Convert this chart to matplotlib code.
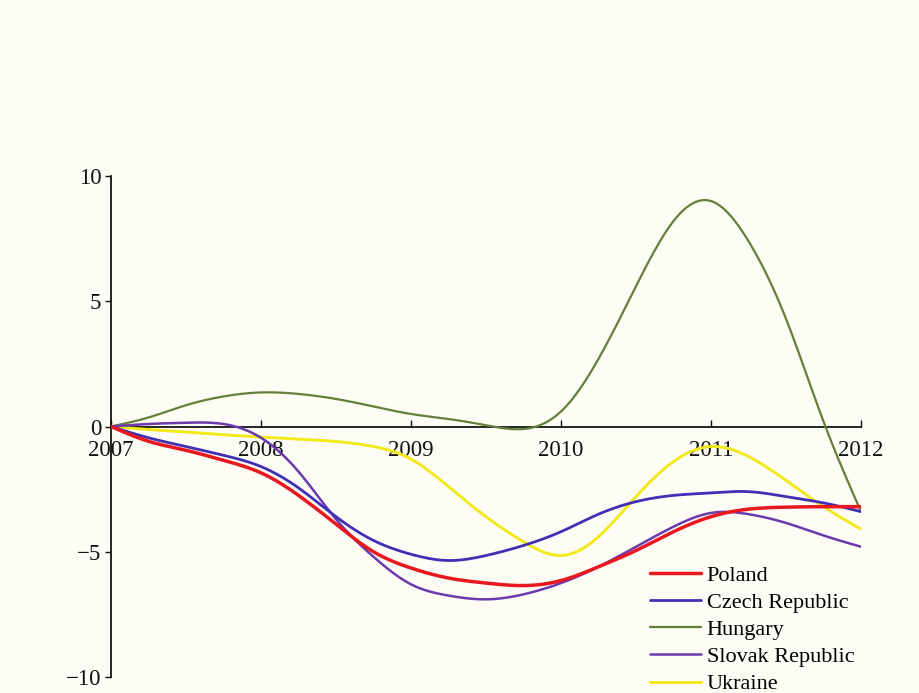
import numpy as np
import matplotlib
matplotlib.use("Agg")
import matplotlib.pyplot as plt

# Quarterly readings, 2007 = 0 baseline
years = np.arange(2007, 2012.01, 0.25)

poland = [0, -0.59, -0.95, -1.35, -1.85, -2.75, -3.9, -5.0, -5.65, -6.05, -6.25,
          -6.35, -6.15, -5.6, -4.95, -4.2, -3.6, -3.3, -3.22, -3.2, -3.2]
czech = [0, -0.45, -0.8, -1.15, -1.6, -2.45, -3.6, -4.55, -5.1, -5.35, -5.15,
         -4.75, -4.2, -3.5, -3.0, -2.75, -2.65, -2.6, -2.8, -3.05, -3.4]
hungary = [0, 0.36, 0.85, 1.2, 1.36, 1.3, 1.1, 0.8, 0.5, 0.3, 0.05,
           -0.1, 0.6, 2.7, 5.6, 8.2, 9.0, 7.4, 4.3, 0.2, -3.4]
slovak = [0, 0.1, 0.15, 0.1, -0.45, -1.8, -3.7, -5.2, -6.3, -6.75, -6.9,
          -6.7, -6.25, -5.6, -4.8, -4.0, -3.45, -3.5, -3.85, -4.35, -4.8]
ukraine = [0, -0.12, -0.22, -0.33, -0.42, -0.5, -0.6, -0.8, -1.3, -2.4, -3.6,
           -4.6, -5.15, -4.4, -2.8, -1.4, -0.8, -1.2, -2.15, -3.2, -4.1]

series_names = ["Poland", "Czech Republic", "Hungary", "Slovak Republic", "Ukraine"]
series_colors = ["#E8181E", "#4130B4", "#647F3A", "#6A3AAE", "#F2E81A"]
series_widths = [2.5, 2.0, 1.6, 1.8, 2.1]

year_ticks = [2007, 2008, 2009, 2010, 2011, 2012]
value_ticks = [-10, -5, 0, 5, 10]


def natural_spline(x, y, per_seg=24):
    """Natural cubic spline through (x, y), evaluated densely for drawing."""
    x = np.asarray(x, float)
    y = np.asarray(y, float)
    n = len(x)
    h = np.diff(x)
    A = np.zeros((n, n))
    b = np.zeros(n)
    A[0, 0] = A[-1, -1] = 1.0
    for i in range(1, n - 1):
        A[i, i - 1] = h[i - 1]
        A[i, i] = 2 * (h[i - 1] + h[i])
        A[i, i + 1] = h[i]
        b[i] = 6 * ((y[i + 1] - y[i]) / h[i] - (y[i] - y[i - 1]) / h[i - 1])
    M = np.linalg.solve(A, b)
    xs, ys = [], []
    for i in range(n - 1):
        t = np.linspace(x[i], x[i + 1], per_seg, endpoint=(i == n - 2))
        a = x[i + 1] - t
        c = t - x[i]
        s = (M[i] * a ** 3 + M[i + 1] * c ** 3) / (6 * h[i]) \
            + (y[i] / h[i] - M[i] * h[i] / 6) * a \
            + (y[i + 1] / h[i] - M[i + 1] * h[i] / 6) * c
        xs.append(t)
        ys.append(s)
    return np.concatenate(xs), np.concatenate(ys)


plt.rcParams["font.family"] = ["Liberation Serif", "DejaVu Serif"]

bg = "#FDFDF5"
fig = plt.figure(figsize=(9.19, 6.93), dpi=100, facecolor=bg)
ax = fig.add_axes([111 / 919, 16 / 693, 750 / 919, 501 / 693])
ax.set_facecolor("none")

data = [poland, czech, hungary, slovak, ukraine]
draw_order = [2, 4, 3, 1, 0]
handles = {}
for k in draw_order:
    xs, ys = natural_spline(years, data[k])
    (ln,) = ax.plot(xs, ys, color=series_colors[k], lw=series_widths[k],
                    solid_capstyle="round", label=series_names[k], zorder=3)
    handles[k] = ln

ax.set_xlim(2007, 2012)
ax.set_ylim(-10, 10)

for side in ("top", "right"):
    ax.spines[side].set_visible(False)
ax.spines["bottom"].set_position(("data", 0))
ax.spines["bottom"].set_linewidth(1.2)
ax.spines["left"].set_linewidth(1.2)
ax.spines["bottom"].set_zorder(2)

ax.set_xticks(year_ticks)
ax.set_xticklabels([str(y) for y in year_ticks])
ax.set_yticks(value_ticks)
ax.set_yticklabels([str(v).replace("-", "\u2212") for v in value_ticks])
ax.tick_params(axis="x", direction="in", length=5, width=1.0, pad=9.5,
               labelsize=16.5, colors="#111111")
ax.tick_params(axis="y", direction="out", length=4, width=1.0, pad=3,
               labelsize=16.5, colors="#111111")

leg = ax.legend([handles[k] for k in range(5)], series_names,
                loc="upper left", bbox_to_anchor=(650 / 919, 1 - 565 / 693),
                bbox_transform=fig.transFigure, frameon=False, fontsize=16,
                handlelength=2.3, handletextpad=0.25, labelspacing=0.3,
                borderpad=0, borderaxespad=0)

fig.savefig("out.png", dpi=100, facecolor=bg)
